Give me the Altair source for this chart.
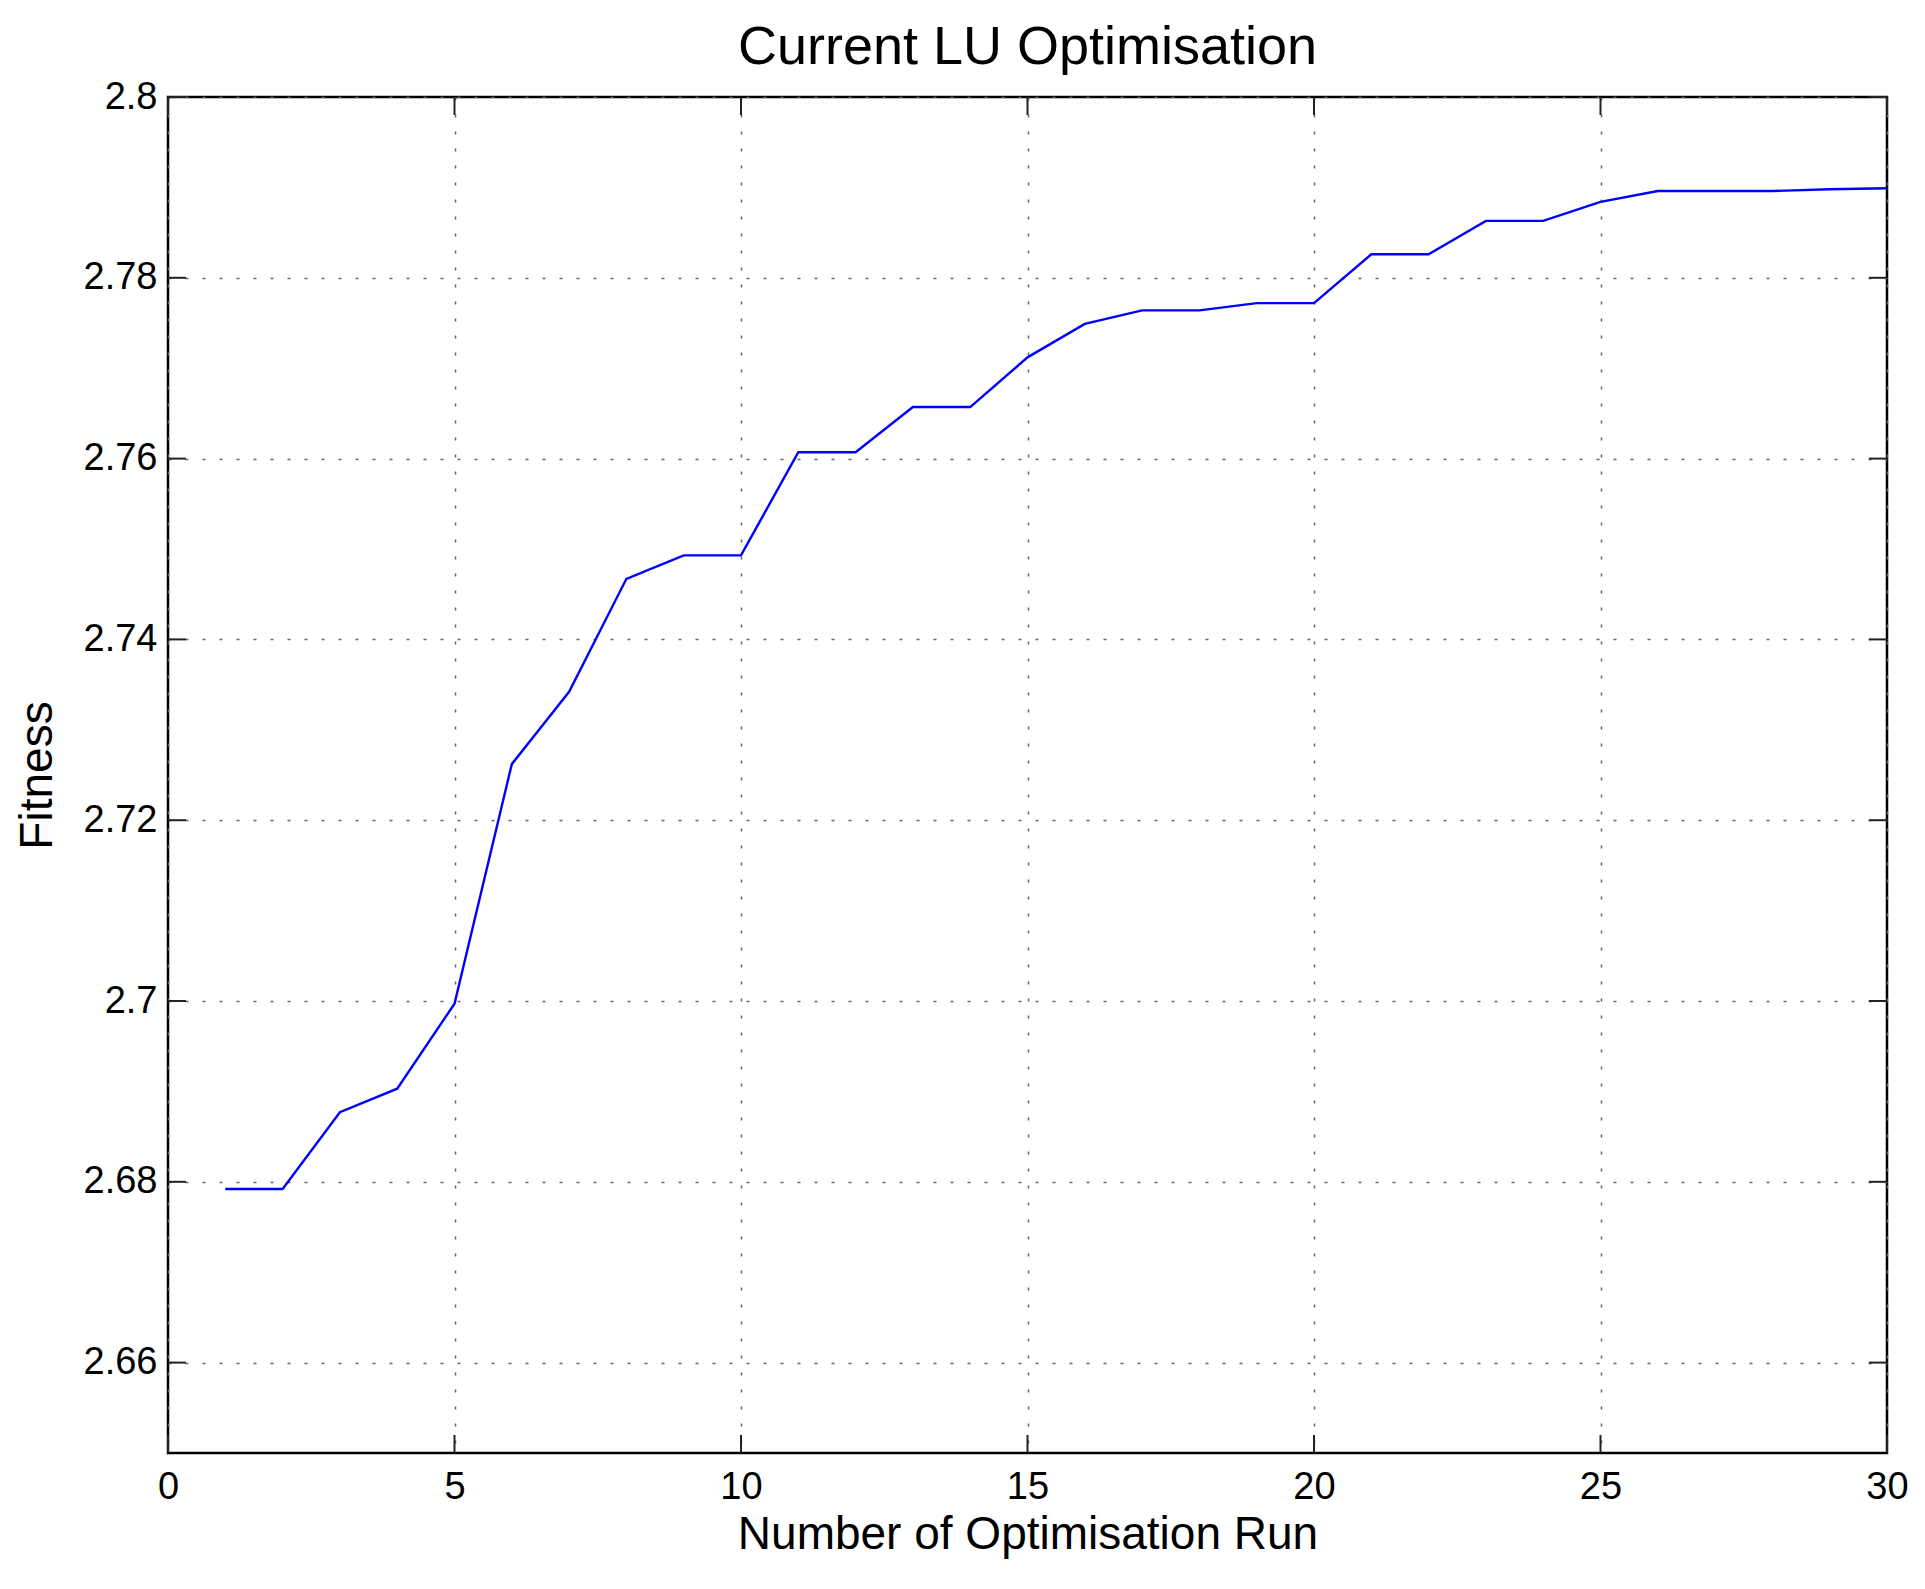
import altair as alt
import pandas as pd

runs = list(range(1, 31))
fitness = [2.6792, 2.6792, 2.6877, 2.6903, 2.6997, 2.7262, 2.7342, 2.7467, 2.7493, 2.7493,
           2.7607, 2.7607, 2.7657, 2.7657, 2.7712, 2.7749, 2.7764, 2.7764, 2.7772, 2.7772,
           2.7826, 2.7826, 2.7863, 2.7863, 2.7884, 2.7896, 2.7896, 2.7896, 2.7898, 2.7899]
x_ticks = [0, 5, 10, 15, 20, 25, 30]
y_ticks = [2.66, 2.68, 2.70, 2.72, 2.74, 2.76, 2.78, 2.80]

W, H, TICK = 1719, 1356, 18
FONT = "Liberation Sans"

df = pd.DataFrame({"run": runs, "fitness": fitness})
xt = pd.DataFrame({"v": x_ticks})
yt = pd.DataFrame({"v": y_ticks})

xs = alt.Scale(domain=[0, 30], nice=False, zero=False)
ys = alt.Scale(domain=[2.65, 2.8], nice=False, zero=False)

x_axis = alt.Axis(
    values=x_ticks, title="Number of Optimisation Run", grid=True,
    gridDash=[3, 14], gridColor="#666666", gridWidth=1.5,
    tickSize=0, domain=False, labelFontSize=38, labelFont=FONT, labelColor="black",
    labelPadding=15, titleFontSize=46, titleFont=FONT, titleFontWeight="normal",
    titleColor="black", titlePadding=6, labelFlush=False)
y_axis = alt.Axis(
    values=y_ticks, format="~g", title="Fitness", grid=True,
    gridDash=[3, 14], gridColor="#666666", gridWidth=1.5,
    tickSize=0, domain=False, labelFontSize=38, labelFont=FONT, labelColor="black",
    labelPadding=11, titleFontSize=46, titleFont=FONT, titleFontWeight="normal",
    titleColor="black", titlePadding=22, labelFlush=False)

line = alt.Chart(df).mark_line(color="#0000ff", strokeWidth=2.4).encode(
    x=alt.X("run:Q", scale=xs, axis=x_axis),
    y=alt.Y("fitness:Q", scale=ys, axis=y_axis),
)

tick_style = dict(color="#222222", strokeWidth=2)
y_left = alt.Chart(yt).mark_rule(**tick_style).encode(
    y=alt.Y("v:Q", scale=ys, axis=y_axis), x=alt.value(0), x2=alt.value(TICK))
y_right = alt.Chart(yt).mark_rule(**tick_style).encode(
    y=alt.Y("v:Q", scale=ys, axis=y_axis), x=alt.value(W - TICK), x2=alt.value(W))
x_bottom = alt.Chart(xt).mark_rule(**tick_style).encode(
    x=alt.X("v:Q", scale=xs, axis=x_axis), y=alt.value(H - TICK), y2=alt.value(H))
x_top = alt.Chart(xt).mark_rule(**tick_style).encode(
    x=alt.X("v:Q", scale=xs, axis=x_axis), y=alt.value(0), y2=alt.value(TICK))

chart = alt.layer(line, y_left, y_right, x_bottom, x_top).properties(
    width=W, height=H,
    title=alt.TitleParams("Current LU Optimisation", fontSize=54, font=FONT,
                          fontWeight="normal", color="black", anchor="middle", offset=3),
    padding={"left": 160, "top": 89, "right": 30, "bottom": 120},
    autosize=alt.AutoSizeParams(type="none"),
    background="white",
).configure_view(stroke="black", strokeWidth=2.5)

chart.save("out.html", embed_options={"renderer": "svg", "actions": False})
